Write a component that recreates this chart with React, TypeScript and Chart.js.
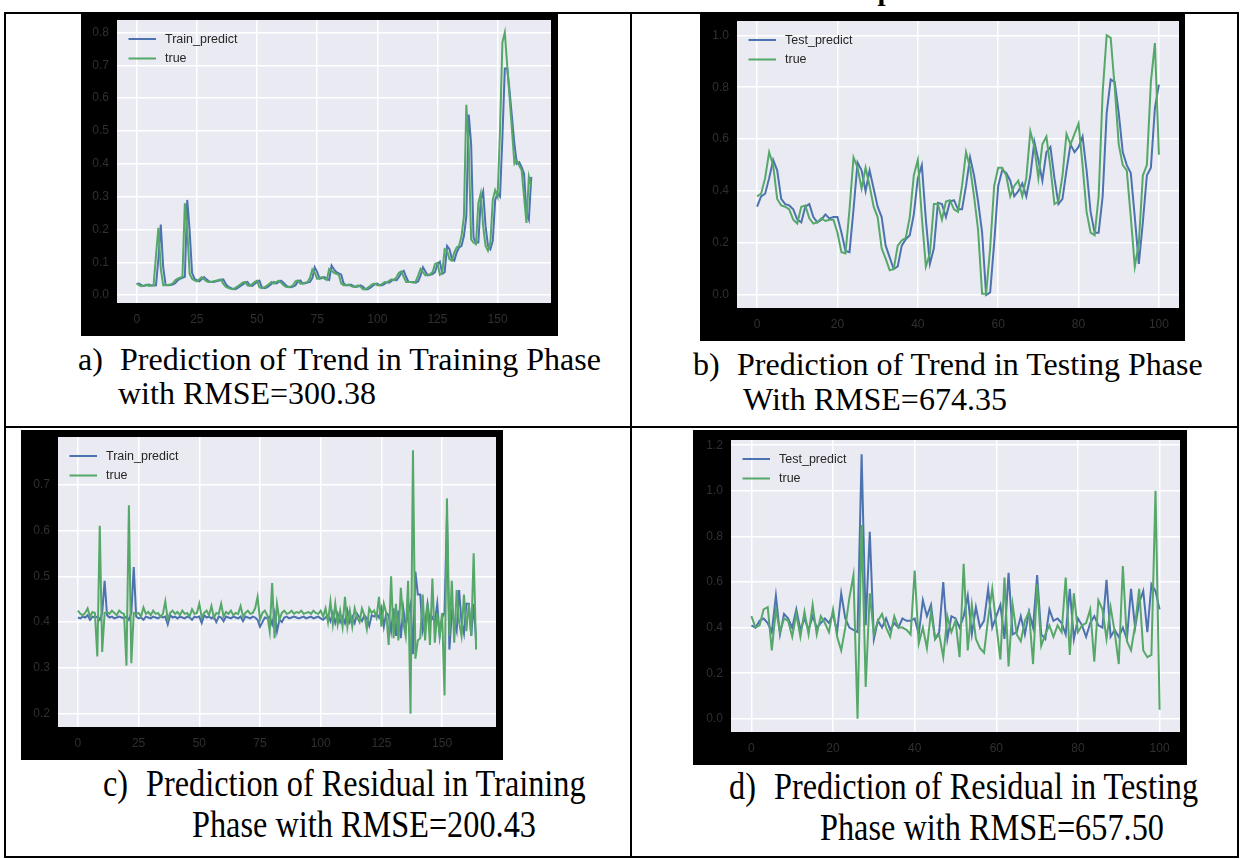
import React, { useEffect, useRef } from 'react';
import { Chart, registerables } from 'chart.js';

Chart.register(...registerables);

// ---------------- DATA ----------------
const trendTrainTrue = [
  0.036, 0.030, 0.027, 0.029, 0.032, 0.028, 0.029, 0.030, 0.120, 0.205,
  0.080, 0.030, 0.030, 0.031, 0.032, 0.036, 0.045, 0.050, 0.053, 0.056,
  0.280, 0.200, 0.065, 0.050, 0.045, 0.042, 0.048, 0.055, 0.048, 0.042,
  0.040, 0.040, 0.042, 0.044, 0.046, 0.048, 0.034, 0.026, 0.022, 0.019,
  0.018, 0.022, 0.027, 0.032, 0.038, 0.040, 0.030, 0.028, 0.034, 0.040,
  0.044, 0.024, 0.021, 0.023, 0.028, 0.034, 0.040, 0.035, 0.040, 0.044,
  0.038, 0.030, 0.025, 0.024, 0.026, 0.030, 0.042, 0.045, 0.035, 0.036,
  0.038, 0.040, 0.052, 0.078, 0.068, 0.050, 0.052, 0.055, 0.050, 0.046,
  0.080, 0.075, 0.068, 0.065, 0.062, 0.036, 0.030, 0.030, 0.032, 0.028,
  0.025, 0.026, 0.030, 0.026, 0.018, 0.018, 0.022, 0.028, 0.033, 0.035,
  0.030, 0.030, 0.034, 0.040, 0.038, 0.044, 0.048, 0.045, 0.055, 0.068,
  0.072, 0.055, 0.040, 0.040, 0.040, 0.038, 0.042, 0.060, 0.080, 0.070,
  0.060, 0.062, 0.064, 0.070, 0.095, 0.098, 0.062, 0.068, 0.140, 0.135,
  0.110, 0.105, 0.130, 0.145, 0.150, 0.180, 0.240, 0.580, 0.450, 0.170,
  0.160, 0.155, 0.280, 0.310, 0.210, 0.150, 0.135, 0.160, 0.290, 0.320,
  0.300, 0.500, 0.770, 0.800, 0.700, 0.600, 0.500, 0.400, 0.410, 0.395,
  0.380, 0.300, 0.220, 0.360, 0.330,
];
const trendTrainPredict = [
  0.034, 0.035, 0.030, 0.028, 0.030, 0.032, 0.029, 0.029, 0.030, 0.110,
  0.215, 0.085, 0.031, 0.030, 0.031, 0.032, 0.036, 0.045, 0.050, 0.053,
  0.056, 0.290, 0.195, 0.068, 0.050, 0.045, 0.042, 0.048, 0.055, 0.048,
  0.042, 0.040, 0.040, 0.042, 0.044, 0.046, 0.048, 0.034, 0.026, 0.022,
  0.019, 0.018, 0.022, 0.027, 0.032, 0.038, 0.040, 0.030, 0.028, 0.034,
  0.040, 0.044, 0.024, 0.021, 0.023, 0.028, 0.034, 0.040, 0.035, 0.040,
  0.044, 0.038, 0.030, 0.025, 0.024, 0.026, 0.030, 0.042, 0.045, 0.035,
  0.036, 0.038, 0.040, 0.052, 0.085, 0.070, 0.050, 0.052, 0.055, 0.050,
  0.046, 0.090, 0.078, 0.070, 0.066, 0.062, 0.036, 0.030, 0.030, 0.032,
  0.028, 0.025, 0.026, 0.030, 0.026, 0.018, 0.018, 0.022, 0.028, 0.033,
  0.035, 0.030, 0.030, 0.034, 0.040, 0.038, 0.044, 0.048, 0.045, 0.055,
  0.068, 0.074, 0.055, 0.040, 0.040, 0.040, 0.038, 0.042, 0.060, 0.085,
  0.072, 0.060, 0.062, 0.064, 0.070, 0.095, 0.102, 0.065, 0.070, 0.150,
  0.140, 0.110, 0.105, 0.130, 0.145, 0.150, 0.180, 0.240, 0.550, 0.460,
  0.175, 0.160, 0.160, 0.290, 0.315, 0.210, 0.150, 0.140, 0.165, 0.290,
  0.310, 0.300, 0.480, 0.690, 0.690, 0.620, 0.540, 0.460, 0.400, 0.405,
  0.390, 0.370, 0.250, 0.230, 0.360,
];

const trendTestTrue = [
  0.38, 0.39, 0.45, 0.55, 0.50, 0.37, 0.345, 0.34, 0.33, 0.29,
  0.275, 0.34, 0.345, 0.295, 0.275, 0.28, 0.295, 0.285, 0.29, 0.29,
  0.24, 0.165, 0.16, 0.33, 0.53, 0.49, 0.41, 0.49, 0.42, 0.34,
  0.30, 0.18, 0.14, 0.095, 0.10, 0.19, 0.21, 0.22, 0.30, 0.46,
  0.52, 0.30, 0.11, 0.16, 0.35, 0.35, 0.29, 0.36, 0.365, 0.33,
  0.32, 0.42, 0.55, 0.49, 0.38, 0.25, 0.005, 0.005, 0.18, 0.42,
  0.49, 0.49, 0.46, 0.38, 0.42, 0.44, 0.38, 0.45, 0.63, 0.57,
  0.45, 0.58, 0.61, 0.49, 0.35, 0.36, 0.46, 0.62, 0.58, 0.62,
  0.66, 0.50, 0.32, 0.24, 0.23, 0.38, 0.78, 1.00, 0.99, 0.80,
  0.58, 0.50, 0.48, 0.30, 0.11, 0.20, 0.46, 0.50, 0.82, 0.97,
  0.54,
];
const trendTestPredict = [
  0.34, 0.38, 0.39, 0.45, 0.52, 0.48, 0.37, 0.35, 0.345, 0.33,
  0.29, 0.28, 0.34, 0.35, 0.30, 0.28, 0.29, 0.31, 0.295, 0.30,
  0.30, 0.24, 0.17, 0.165, 0.33, 0.51, 0.48, 0.40, 0.48, 0.41,
  0.34, 0.30, 0.19, 0.145, 0.10, 0.11, 0.19, 0.215, 0.23, 0.31,
  0.45, 0.50, 0.29, 0.12, 0.18, 0.355, 0.35, 0.30, 0.36, 0.365,
  0.33, 0.33, 0.42, 0.53, 0.46, 0.36, 0.24, 0.00, 0.01, 0.20,
  0.42, 0.48, 0.47, 0.44, 0.38, 0.40, 0.43, 0.38, 0.46, 0.59,
  0.52, 0.44, 0.55, 0.57, 0.45, 0.35, 0.37, 0.48, 0.58, 0.55,
  0.57, 0.61, 0.48, 0.32, 0.24, 0.24, 0.38, 0.70, 0.83, 0.82,
  0.70, 0.55, 0.50, 0.47, 0.30, 0.12, 0.28, 0.46, 0.49, 0.72,
  0.81,
];

const residTrainTrue = [
  0.425, 0.418, 0.415, 0.420, 0.430, 0.412, 0.422, 0.420, 0.325, 0.610,
  0.335, 0.420, 0.422, 0.418, 0.425, 0.420, 0.415, 0.425, 0.420, 0.418,
  0.305, 0.655, 0.310, 0.420, 0.418, 0.420, 0.412, 0.432, 0.418, 0.422,
  0.415, 0.425, 0.418, 0.420, 0.412, 0.418, 0.445, 0.405, 0.420, 0.425,
  0.418, 0.422, 0.415, 0.425, 0.418, 0.420, 0.412, 0.428, 0.418, 0.420,
  0.440, 0.410, 0.420, 0.425, 0.415, 0.435, 0.410, 0.420, 0.418, 0.440,
  0.412, 0.422, 0.418, 0.425, 0.415, 0.420, 0.418, 0.435, 0.412, 0.420,
  0.425, 0.418, 0.420, 0.430, 0.455, 0.405, 0.420, 0.425, 0.415, 0.380,
  0.485, 0.365, 0.440, 0.405, 0.420, 0.425, 0.418, 0.420, 0.425, 0.418,
  0.422, 0.420, 0.425, 0.418, 0.420, 0.422, 0.418, 0.425, 0.420, 0.418,
  0.425, 0.412, 0.430, 0.400, 0.445, 0.395, 0.440, 0.395, 0.425, 0.390,
  0.455, 0.390, 0.425, 0.390, 0.430, 0.410, 0.400, 0.430, 0.415, 0.385,
  0.430, 0.420, 0.425, 0.410, 0.455, 0.390, 0.440, 0.420, 0.350, 0.500,
  0.365, 0.440, 0.360, 0.475, 0.400, 0.370, 0.490, 0.200, 0.775, 0.320,
  0.360, 0.365, 0.460, 0.360, 0.440, 0.350, 0.495, 0.355, 0.420, 0.370,
  0.420, 0.240, 0.670, 0.370, 0.490, 0.355, 0.470, 0.400, 0.370, 0.460,
  0.380, 0.440, 0.370, 0.550, 0.340,
];
const residTrainPredict = [
  0.410, 0.408, 0.412, 0.410, 0.415, 0.405, 0.412, 0.410, 0.412, 0.405,
  0.420, 0.490, 0.415, 0.410, 0.412, 0.408, 0.410, 0.412, 0.410, 0.408,
  0.412, 0.405, 0.420, 0.520, 0.412, 0.408, 0.410, 0.405, 0.412, 0.410,
  0.408, 0.412, 0.410, 0.408, 0.412, 0.410, 0.412, 0.395, 0.415, 0.410,
  0.412, 0.408, 0.412, 0.410, 0.408, 0.412, 0.410, 0.405, 0.412, 0.410,
  0.412, 0.398, 0.415, 0.410, 0.412, 0.408, 0.412, 0.400, 0.412, 0.410,
  0.402, 0.412, 0.410, 0.408, 0.412, 0.410, 0.408, 0.412, 0.402, 0.412,
  0.410, 0.408, 0.412, 0.410, 0.405, 0.390, 0.400, 0.410, 0.408, 0.412,
  0.395, 0.420, 0.380, 0.405, 0.400, 0.410, 0.412, 0.408, 0.410, 0.412,
  0.410, 0.408, 0.410, 0.412, 0.408, 0.410, 0.412, 0.408, 0.410, 0.412,
  0.408, 0.405, 0.410, 0.415, 0.402, 0.420, 0.398, 0.418, 0.400, 0.412,
  0.398, 0.425, 0.400, 0.412, 0.398, 0.418, 0.410, 0.402, 0.415, 0.408,
  0.392, 0.415, 0.412, 0.418, 0.410, 0.430, 0.390, 0.420, 0.415, 0.380,
  0.430, 0.370, 0.425, 0.365, 0.430, 0.390, 0.420, 0.440, 0.330, 0.510,
  0.460, 0.460, 0.380, 0.400, 0.440, 0.400, 0.410, 0.400, 0.440, 0.370,
  0.410, 0.420, 0.630, 0.340, 0.420, 0.400, 0.380, 0.470, 0.400, 0.375,
  0.440, 0.440, 0.370, 0.440, 0.360,
];

const residTestTrue = [
  0.45, 0.40, 0.41, 0.48, 0.49, 0.30, 0.48, 0.38, 0.44, 0.43,
  0.36, 0.46, 0.36, 0.47, 0.37, 0.50, 0.37, 0.45, 0.42, 0.38,
  0.48, 0.36, 0.30, 0.40, 0.53, 0.63, 0.00, 0.85, 0.14, 0.55,
  0.37, 0.43, 0.46, 0.40, 0.36, 0.45, 0.40, 0.40, 0.39, 0.37,
  0.65, 0.33, 0.40, 0.31, 0.47, 0.35, 0.37, 0.27, 0.45, 0.38,
  0.43, 0.27, 0.68, 0.30, 0.50, 0.35, 0.31, 0.29, 0.44, 0.57,
  0.41, 0.26, 0.62, 0.23, 0.50, 0.37, 0.34, 0.43, 0.47, 0.24,
  0.59, 0.32, 0.37, 0.41, 0.36, 0.41, 0.38, 0.62, 0.28, 0.55,
  0.38, 0.41, 0.42, 0.48, 0.25, 0.52, 0.48, 0.35, 0.49, 0.38,
  0.24, 0.67, 0.34, 0.30, 0.41, 0.57, 0.30, 0.27, 0.28, 1.00,
  0.04,
];
const residTestPredict = [
  0.41, 0.40, 0.43, 0.44, 0.42, 0.38, 0.54, 0.37, 0.46, 0.44,
  0.40, 0.48, 0.39, 0.44, 0.39, 0.45, 0.40, 0.42, 0.44, 0.42,
  0.46, 0.38, 0.55, 0.44, 0.40, 0.39, 0.38, 1.16, 0.41, 0.82,
  0.35, 0.43, 0.40, 0.44, 0.39, 0.42, 0.40, 0.44, 0.43, 0.43,
  0.44, 0.37, 0.52, 0.45, 0.50, 0.35, 0.38, 0.60, 0.35, 0.45,
  0.44, 0.40, 0.45, 0.54, 0.37, 0.49, 0.40, 0.43, 0.57, 0.40,
  0.45, 0.50, 0.35, 0.64, 0.37, 0.38, 0.45, 0.37, 0.47, 0.40,
  0.63, 0.37, 0.35, 0.48, 0.43, 0.44, 0.42, 0.37, 0.57, 0.35,
  0.44, 0.41, 0.36, 0.42, 0.45, 0.41, 0.40, 0.61, 0.36, 0.39,
  0.36, 0.40, 0.35, 0.57, 0.40, 0.51, 0.56, 0.38, 0.59, 0.56,
  0.48,
];

const xTicksTrain = [0, 25, 50, 75, 100, 125, 150];
const xTicksTest = [0, 20, 40, 60, 80, 100];
const yTicksTrendTrain = [0.0, 0.1, 0.2, 0.3, 0.4, 0.5, 0.6, 0.7, 0.8];
const yTicksTrendTest = [0.0, 0.2, 0.4, 0.6, 0.8, 1.0];
const yTicksResidTrain = [0.2, 0.3, 0.4, 0.5, 0.6, 0.7];
const yTicksResidTest = [0.0, 0.2, 0.4, 0.6, 0.8, 1.0, 1.2];

const titleText = 'Prediction accuracies of trend and residual components';
const captionA = ['a)', 'Prediction of Trend in Training Phase', 'with RMSE=300.38'];
const captionB = ['b)', 'Prediction of Trend in Testing Phase', 'With RMSE=674.35'];
const captionC = ['c)', 'Prediction of Residual in Training', 'Phase with RMSE=200.43'];
const captionD = ['d)', 'Prediction of Residual in Testing', 'Phase with RMSE=657.50'];

// ---------------- STYLE ----------------
const BLUE = '#4C72B0';
const GREEN = '#55A868';
const PLOT_BG = '#EAEAF2';
const TICK_COLOR = '#303030';

type PanelProps = {
  left: number; top: number; width: number; height: number;
  inL: number; inR: number; inT: number; inB: number;
  predictLabel: string;
  predict: number[]; truth: number[];
  xMin: number; xMax: number; yMin: number; yMax: number;
  xTicks: number[]; yTicks: number[];
};

const bgPlugin = {
  id: 'plotBg',
  beforeDraw(chart: any) {
    const { ctx, chartArea } = chart;
    ctx.save();
    ctx.fillStyle = PLOT_BG;
    ctx.fillRect(chartArea.left, chartArea.top, chartArea.right - chartArea.left, chartArea.bottom - chartArea.top);
    ctx.restore();
  },
};

const legendPlugin = {
  id: 'innerLegend',
  afterDraw(chart: any) {
    const { ctx, chartArea } = chart;
    ctx.save();
    chart.data.datasets.forEach((ds: any, i: number) => {
      const y = chartArea.top + 19 + i * 19.5;
      ctx.strokeStyle = ds.borderColor;
      ctx.lineWidth = 2;
      ctx.beginPath();
      ctx.moveTo(chartArea.left + 11.5, y);
      ctx.lineTo(chartArea.left + 39, y);
      ctx.stroke();
      ctx.fillStyle = '#262626';
      ctx.font = '12.5px "Liberation Sans", Arial, sans-serif';
      ctx.textBaseline = 'middle';
      ctx.textAlign = 'left';
      ctx.fillText(ds.label, chartArea.left + 48, y + 0.5);
    });
    ctx.restore();
  },
};

function ChartPanel(p: PanelProps) {
  const ref = useRef<HTMLCanvasElement>(null);
  useEffect(() => {
    const toPts = (arr: number[]) => arr.map((v, i) => ({ x: i, y: v }));
    const tickFont = { family: '"Liberation Sans", Arial, sans-serif', size: 12 };
    const chart = new Chart(ref.current as HTMLCanvasElement, {
      type: 'line',
      data: {
        datasets: [
          { label: p.predictLabel, data: toPts(p.predict), borderColor: BLUE, backgroundColor: BLUE, borderWidth: 2, pointRadius: 0, fill: false, tension: 0, order: 1 },
          { label: 'true', data: toPts(p.truth), borderColor: GREEN, backgroundColor: GREEN, borderWidth: 2, pointRadius: 0, fill: false, tension: 0, order: 0 },
        ],
      } as any,
      options: {
        animation: false,
        responsive: false,
        maintainAspectRatio: false,
        layout: { padding: { left: 0, right: p.inR, top: p.inT, bottom: 0 } },
        plugins: { legend: { display: false }, tooltip: { enabled: false } },
        events: [],
        scales: {
          x: {
            type: 'linear',
            min: p.xMin,
            max: p.xMax,
            afterBuildTicks: (s: any) => { s.ticks = p.xTicks.map((v) => ({ value: v })); },
            afterFit: (s: any) => { s.height = p.inB; s.paddingLeft = 0; s.paddingRight = 0; },
            grid: { color: '#ffffff', lineWidth: 1.5, drawTicks: false },
            border: { display: false },
            ticks: { color: TICK_COLOR, font: tickFont, padding: 9, maxRotation: 0, autoSkip: false, callback: (v: any) => String(v) },
          },
          y: {
            type: 'linear',
            min: p.yMin,
            max: p.yMax,
            afterBuildTicks: (s: any) => { s.ticks = p.yTicks.map((v) => ({ value: v })); },
            afterFit: (s: any) => { s.width = p.inL; s.paddingTop = 0; s.paddingBottom = 0; },
            grid: { color: '#ffffff', lineWidth: 1.5, drawTicks: false },
            border: { display: false },
            ticks: { color: TICK_COLOR, font: tickFont, padding: 8, autoSkip: false, callback: (v: any) => Number(v).toFixed(1) },
          },
        },
      } as any,
      plugins: [bgPlugin, legendPlugin],
    });
    return () => chart.destroy();
  }, []);
  return (
    <div style={{ position: 'absolute', left: p.left, top: p.top, width: p.width, height: p.height, background: '#000' }}>
      <canvas ref={ref} width={p.width} height={p.height} style={{ display: 'block', width: p.width, height: p.height }} />
    </div>
  );
}

function Line({ x, y, w, h }: { x: number; y: number; w: number; h: number }) {
  return <div style={{ position: 'absolute', left: x, top: y, width: w, height: h, background: '#000' }} />;
}

function Caption({ parts, labelX, textX, line2X, base1, base2, size, scale }: {
  parts: string[]; labelX: number; textX: number; line2X: number; base1: number; base2: number; size: number; scale: number;
}) {
  const common: React.CSSProperties = {
    position: 'absolute',
    fontFamily: '"Liberation Serif", "Times New Roman", serif',
    fontSize: size,
    lineHeight: `${size}px`,
    whiteSpace: 'nowrap',
    color: '#000',
    transform: `scaleX(${scale})`,
    transformOrigin: 'left top',
  };
  const off = size * 0.8375;
  return (
    <>
      <div style={{ ...common, left: labelX, top: base1 - off }}>{parts[0]}</div>
      <div style={{ ...common, left: textX, top: base1 - off }}>{parts[1]}</div>
      <div style={{ ...common, left: line2X, top: base2 - off }}>{parts[2]}</div>
    </>
  );
}

export default function App() {
  return (
    <div style={{ position: 'fixed', left: 0, top: 0, width: 1242, height: 859, background: '#fff', overflow: 'hidden' }}>
      <div style={{
        position: 'absolute', left: 0, top: -24, width: 1262, textAlign: 'center',
        fontFamily: '"Liberation Serif", "Times New Roman", serif', fontWeight: 'bold', fontSize: 29, lineHeight: '29px', whiteSpace: 'nowrap',
      }}>{titleText}</div>

      {/* table borders */}
      <Line x={4} y={12} w={1235} h={2} />
      <Line x={4} y={12} w={2} h={846} />
      <Line x={1237} y={12} w={2} h={846} />
      <Line x={4} y={856} w={1235} h={2} />
      <Line x={630} y={12} w={2} h={846} />
      <Line x={4} y={426} w={1235} h={2} />

      <ChartPanel left={81} top={13} width={477} height={323} inL={36} inR={7} inT={7} inB={33}
        predictLabel="Train_predict" predict={trendTrainPredict} truth={trendTrainTrue}
        xMin={-8.2} xMax={172.2} yMin={-0.024} yMax={0.838} xTicks={xTicksTrain} yTicks={yTicksTrendTrain} />
      <ChartPanel left={700} top={13} width={485} height={328} inL={37} inR={6} inT={8} inB={33}
        predictLabel="Test_predict" predict={trendTestPredict} truth={trendTestTrue}
        xMin={-5} xMax={105} yMin={-0.05} yMax={1.055} xTicks={xTicksTest} yTicks={yTicksTrendTest} />
      <ChartPanel left={21} top={430} width={482} height={330} inL={37} inR={7} inT={7} inB={33}
        predictLabel="Train_predict" predict={residTrainPredict} truth={residTrainTrue}
        xMin={-8.2} xMax={172.2} yMin={0.171} yMax={0.804} xTicks={xTicksTrain} yTicks={yTicksResidTrain} />
      <ChartPanel left={693} top={430} width={494} height={335} inL={38} inR={7} inT={10} inB={33}
        predictLabel="Test_predict" predict={residTestPredict} truth={residTestTrue}
        xMin={-5} xMax={105} yMin={-0.058} yMax={1.223} xTicks={xTicksTest} yTicks={yTicksResidTest} />

      <Caption parts={captionA} labelX={78} textX={120} line2X={118} base1={370} base2={404} size={32} scale={1} />
      <Caption parts={captionB} labelX={693} textX={737} line2X={743} base1={375} base2={410} size={32} scale={1} />
      <Caption parts={captionC} labelX={103} textX={146} line2X={192} base1={796} base2={837} size={38} scale={0.85} />
      <Caption parts={captionD} labelX={729} textX={774} line2X={820} base1={799} base2={840} size={38} scale={0.85} />
    </div>
  );
}
